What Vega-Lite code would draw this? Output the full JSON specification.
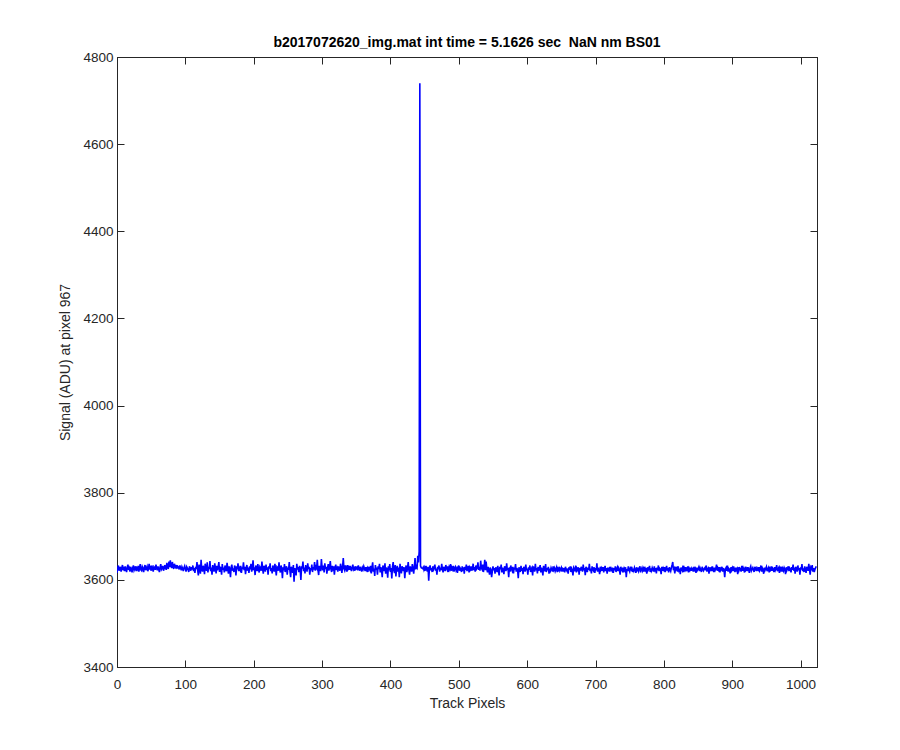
{
"$schema":"https://vega.github.io/schema/vega-lite/v6.json",
"width":700,"height":610,
"autosize":{"type":"none"},
"padding":{"left":117,"top":57,"right":83,"bottom":83},
"background":"white",
"title":{"text":"b2017072620_img.mat int time = 5.1626 sec \u00a0NaN nm BS01","font":"Liberation Sans","fontSize":14,"fontWeight":"bold","color":"#000000","anchor":"middle","offset":0},
"config":{"view":{"stroke":"#262626","strokeWidth":1},
"axis":{"grid":false,"labelFont":"Liberation Sans","labelFontSize":13.5,"labelColor":"#262626","titleFont":"Liberation Sans","titleFontSize":14,"titleFontWeight":"normal","titleColor":"#262626","tickColor":"#262626","domainColor":"#262626","tickSize":-7,"domainWidth":1,"tickWidth":1}},
"data":{"values":[
{"x":0,"y":3616},{"x":1,"y":3628},{"x":2,"y":3633},{"x":3,"y":3621},{"x":4,"y":3625},{"x":5,"y":3630},{"x":6,"y":3619},{"x":7,"y":3627},{"x":8,"y":3634},{"x":9,"y":3622},
{"x":10,"y":3626},{"x":11,"y":3620},{"x":12,"y":3631},{"x":13,"y":3624},{"x":14,"y":3618},{"x":15,"y":3629},{"x":16,"y":3635},{"x":17,"y":3623},{"x":18,"y":3627},{"x":19,"y":3619},
{"x":20,"y":3630},{"x":21,"y":3625},{"x":22,"y":3617},{"x":23,"y":3628},{"x":24,"y":3633},{"x":25,"y":3622},{"x":26,"y":3626},{"x":27,"y":3631},{"x":28,"y":3620},{"x":29,"y":3627},
{"x":30,"y":3624},{"x":31,"y":3632},{"x":32,"y":3619},{"x":33,"y":3628},{"x":34,"y":3636},{"x":35,"y":3623},{"x":36,"y":3621},{"x":37,"y":3630},{"x":38,"y":3626},{"x":39,"y":3618},
{"x":40,"y":3629},{"x":41,"y":3634},{"x":42,"y":3622},{"x":43,"y":3627},{"x":44,"y":3631},{"x":45,"y":3620},{"x":46,"y":3625},{"x":47,"y":3637},{"x":48,"y":3624},{"x":49,"y":3628},
{"x":50,"y":3621},{"x":51,"y":3633},{"x":52,"y":3626},{"x":53,"y":3619},{"x":54,"y":3630},{"x":55,"y":3628},{"x":56,"y":3623},{"x":57,"y":3635},{"x":58,"y":3627},{"x":59,"y":3622},
{"x":60,"y":3631},{"x":61,"y":3625},{"x":62,"y":3618},{"x":63,"y":3629},{"x":64,"y":3636},{"x":65,"y":3624},{"x":66,"y":3627},{"x":67,"y":3632},{"x":68,"y":3621},{"x":69,"y":3626},
{"x":70,"y":3634},{"x":71,"y":3628},{"x":72,"y":3623},{"x":73,"y":3639},{"x":74,"y":3630},{"x":75,"y":3625},{"x":76,"y":3642},{"x":77,"y":3629},{"x":78,"y":3645},{"x":79,"y":3633},
{"x":80,"y":3627},{"x":81,"y":3641},{"x":82,"y":3631},{"x":83,"y":3625},{"x":84,"y":3637},{"x":85,"y":3630},{"x":86,"y":3628},{"x":87,"y":3634},{"x":88,"y":3626},{"x":89,"y":3631},
{"x":90,"y":3629},{"x":91,"y":3624},{"x":92,"y":3633},{"x":93,"y":3627},{"x":94,"y":3622},{"x":95,"y":3630},{"x":96,"y":3626},{"x":97,"y":3620},{"x":98,"y":3628},{"x":99,"y":3632},
{"x":100,"y":3625},{"x":101,"y":3619},{"x":102,"y":3630},{"x":103,"y":3627},{"x":104,"y":3623},{"x":105,"y":3618},{"x":106,"y":3631},{"x":107,"y":3626},{"x":108,"y":3621},{"x":109,"y":3629},
{"x":110,"y":3624},{"x":111,"y":3633},{"x":112,"y":3620},{"x":113,"y":3627},{"x":114,"y":3616},{"x":115,"y":3630},{"x":116,"y":3625},{"x":117,"y":3641},{"x":118,"y":3622},{"x":119,"y":3610},
{"x":120,"y":3635},{"x":121,"y":3627},{"x":122,"y":3614},{"x":123,"y":3646},{"x":124,"y":3624},{"x":125,"y":3619},{"x":126,"y":3632},{"x":127,"y":3628},{"x":128,"y":3613},{"x":129,"y":3637},
{"x":130,"y":3626},{"x":131,"y":3621},{"x":132,"y":3640},{"x":133,"y":3617},{"x":134,"y":3630},{"x":135,"y":3625},{"x":136,"y":3643},{"x":137,"y":3620},{"x":138,"y":3628},{"x":139,"y":3612},
{"x":140,"y":3634},{"x":141,"y":3624},{"x":142,"y":3619},{"x":143,"y":3638},{"x":144,"y":3627},{"x":145,"y":3615},{"x":146,"y":3632},{"x":147,"y":3622},{"x":148,"y":3629},{"x":149,"y":3641},
{"x":150,"y":3618},{"x":151,"y":3630},{"x":152,"y":3626},{"x":153,"y":3612},{"x":154,"y":3636},{"x":155,"y":3623},{"x":156,"y":3628},{"x":157,"y":3617},{"x":158,"y":3633},{"x":159,"y":3625},
{"x":160,"y":3620},{"x":161,"y":3639},{"x":162,"y":3627},{"x":163,"y":3614},{"x":164,"y":3631},{"x":165,"y":3624},{"x":166,"y":3606},{"x":167,"y":3629},{"x":168,"y":3635},{"x":169,"y":3621},
{"x":170,"y":3626},{"x":171,"y":3618},{"x":172,"y":3633},{"x":173,"y":3628},{"x":174,"y":3610},{"x":175,"y":3631},{"x":176,"y":3624},{"x":177,"y":3638},{"x":178,"y":3620},{"x":179,"y":3627},
{"x":180,"y":3623},{"x":181,"y":3632},{"x":182,"y":3616},{"x":183,"y":3629},{"x":184,"y":3625},{"x":185,"y":3640},{"x":186,"y":3622},{"x":187,"y":3630},{"x":188,"y":3613},{"x":189,"y":3627},
{"x":190,"y":3634},{"x":191,"y":3621},{"x":192,"y":3628},{"x":193,"y":3616},{"x":194,"y":3631},{"x":195,"y":3624},{"x":196,"y":3637},{"x":197,"y":3619},{"x":198,"y":3626},{"x":199,"y":3645},
{"x":200,"y":3622},{"x":201,"y":3629},{"x":202,"y":3611},{"x":203,"y":3633},{"x":204,"y":3626},{"x":205,"y":3620},{"x":206,"y":3636},{"x":207,"y":3624},{"x":208,"y":3617},{"x":209,"y":3630},
{"x":210,"y":3627},{"x":211,"y":3621},{"x":212,"y":3642},{"x":213,"y":3625},{"x":214,"y":3614},{"x":215,"y":3632},{"x":216,"y":3628},{"x":217,"y":3619},{"x":218,"y":3635},{"x":219,"y":3623},
{"x":220,"y":3629},{"x":221,"y":3612},{"x":222,"y":3631},{"x":223,"y":3626},{"x":224,"y":3638},{"x":225,"y":3620},{"x":226,"y":3627},{"x":227,"y":3615},{"x":228,"y":3633},{"x":229,"y":3624},
{"x":230,"y":3619},{"x":231,"y":3637},{"x":232,"y":3625},{"x":233,"y":3610},{"x":234,"y":3630},{"x":235,"y":3628},{"x":236,"y":3621},{"x":237,"y":3640},{"x":238,"y":3624},{"x":239,"y":3617},
{"x":240,"y":3633},{"x":241,"y":3626},{"x":242,"y":3604},{"x":243,"y":3629},{"x":244,"y":3622},{"x":245,"y":3636},{"x":246,"y":3618},{"x":247,"y":3627},{"x":248,"y":3631},{"x":249,"y":3612},
{"x":250,"y":3628},{"x":251,"y":3623},{"x":252,"y":3641},{"x":253,"y":3620},{"x":254,"y":3606},{"x":255,"y":3630},{"x":256,"y":3625},{"x":257,"y":3616},{"x":258,"y":3634},{"x":259,"y":3596},
{"x":260,"y":3627},{"x":261,"y":3621},{"x":262,"y":3610},{"x":263,"y":3637},{"x":264,"y":3624},{"x":265,"y":3629},{"x":266,"y":3618},{"x":267,"y":3632},{"x":268,"y":3623},{"x":269,"y":3600},
{"x":270,"y":3631},{"x":271,"y":3626},{"x":272,"y":3642},{"x":273,"y":3620},{"x":274,"y":3628},{"x":275,"y":3615},{"x":276,"y":3634},{"x":277,"y":3624},{"x":278,"y":3619},{"x":279,"y":3638},
{"x":280,"y":3625},{"x":281,"y":3630},{"x":282,"y":3612},{"x":283,"y":3627},{"x":284,"y":3622},{"x":285,"y":3635},{"x":286,"y":3618},{"x":287,"y":3629},{"x":288,"y":3624},{"x":289,"y":3641},
{"x":290,"y":3621},{"x":291,"y":3630},{"x":292,"y":3627},{"x":293,"y":3646},{"x":294,"y":3623},{"x":295,"y":3611},{"x":296,"y":3632},{"x":297,"y":3626},{"x":298,"y":3620},{"x":299,"y":3648},
{"x":300,"y":3628},{"x":301,"y":3622},{"x":302,"y":3633},{"x":303,"y":3617},{"x":304,"y":3638},{"x":305,"y":3625},{"x":306,"y":3630},{"x":307,"y":3614},{"x":308,"y":3627},{"x":309,"y":3636},
{"x":310,"y":3621},{"x":311,"y":3629},{"x":312,"y":3643},{"x":313,"y":3624},{"x":314,"y":3618},{"x":315,"y":3632},{"x":316,"y":3626},{"x":317,"y":3631},{"x":318,"y":3612},{"x":319,"y":3628},
{"x":320,"y":3635},{"x":321,"y":3623},{"x":322,"y":3627},{"x":323,"y":3619},{"x":324,"y":3631},{"x":325,"y":3625},{"x":326,"y":3621},{"x":327,"y":3637},{"x":328,"y":3628},{"x":329,"y":3616},
{"x":330,"y":3630},{"x":331,"y":3650},{"x":332,"y":3626},{"x":333,"y":3622},{"x":334,"y":3633},{"x":335,"y":3628},{"x":336,"y":3619},{"x":337,"y":3634},{"x":338,"y":3625},{"x":339,"y":3629},
{"x":340,"y":3623},{"x":341,"y":3632},{"x":342,"y":3626},{"x":343,"y":3620},{"x":344,"y":3629},{"x":345,"y":3635},{"x":346,"y":3624},{"x":347,"y":3627},{"x":348,"y":3621},{"x":349,"y":3631},
{"x":350,"y":3626},{"x":351,"y":3628},{"x":352,"y":3622},{"x":353,"y":3633},{"x":354,"y":3627},{"x":355,"y":3621},{"x":356,"y":3630},{"x":357,"y":3625},{"x":358,"y":3619},{"x":359,"y":3628},
{"x":360,"y":3624},{"x":361,"y":3631},{"x":362,"y":3626},{"x":363,"y":3620},{"x":364,"y":3629},{"x":365,"y":3623},{"x":366,"y":3627},{"x":367,"y":3618},{"x":368,"y":3630},{"x":369,"y":3625},
{"x":370,"y":3622},{"x":371,"y":3632},{"x":372,"y":3615},{"x":373,"y":3628},{"x":374,"y":3640},{"x":375,"y":3619},{"x":376,"y":3626},{"x":377,"y":3609},{"x":378,"y":3634},{"x":379,"y":3623},
{"x":380,"y":3628},{"x":381,"y":3612},{"x":382,"y":3631},{"x":383,"y":3625},{"x":384,"y":3637},{"x":385,"y":3617},{"x":386,"y":3629},{"x":387,"y":3622},{"x":388,"y":3606},{"x":389,"y":3633},
{"x":390,"y":3626},{"x":391,"y":3620},{"x":392,"y":3638},{"x":393,"y":3614},{"x":394,"y":3628},{"x":395,"y":3624},{"x":396,"y":3605},{"x":397,"y":3631},{"x":398,"y":3622},{"x":399,"y":3636},
{"x":400,"y":3618},{"x":401,"y":3627},{"x":402,"y":3603},{"x":403,"y":3630},{"x":404,"y":3641},{"x":405,"y":3621},{"x":406,"y":3616},{"x":407,"y":3634},{"x":408,"y":3608},{"x":409,"y":3626},
{"x":410,"y":3632},{"x":411,"y":3619},{"x":412,"y":3628},{"x":413,"y":3606},{"x":414,"y":3637},{"x":415,"y":3624},{"x":416,"y":3615},{"x":417,"y":3631},{"x":418,"y":3627},{"x":419,"y":3620},
{"x":420,"y":3629},{"x":421,"y":3604},{"x":422,"y":3625},{"x":423,"y":3633},{"x":424,"y":3618},{"x":425,"y":3627},{"x":426,"y":3641},{"x":427,"y":3622},{"x":428,"y":3612},{"x":429,"y":3631},
{"x":430,"y":3624},{"x":431,"y":3619},{"x":432,"y":3636},{"x":433,"y":3627},{"x":434,"y":3614},{"x":435,"y":3630},{"x":436,"y":3650},{"x":437,"y":3624},{"x":438,"y":3631},{"x":439,"y":3628},
{"x":440,"y":3655},{"x":441,"y":3640},{"x":442,"y":3665},{"x":443,"y":4740},{"x":444,"y":3632},{"x":445,"y":3628},{"x":446,"y":3627},{"x":447,"y":3626},{"x":448,"y":3629},{"x":449,"y":3623},
{"x":450,"y":3628},{"x":451,"y":3621},{"x":452,"y":3632},{"x":453,"y":3625},{"x":454,"y":3619},{"x":455,"y":3630},{"x":456,"y":3598},{"x":457,"y":3626},{"x":458,"y":3633},{"x":459,"y":3622},
{"x":460,"y":3627},{"x":461,"y":3618},{"x":462,"y":3631},{"x":463,"y":3624},{"x":464,"y":3629},{"x":465,"y":3635},{"x":466,"y":3621},{"x":467,"y":3626},{"x":468,"y":3612},{"x":469,"y":3630},
{"x":470,"y":3624},{"x":471,"y":3633},{"x":472,"y":3619},{"x":473,"y":3628},{"x":474,"y":3622},{"x":475,"y":3637},{"x":476,"y":3625},{"x":477,"y":3617},{"x":478,"y":3630},{"x":479,"y":3626},
{"x":480,"y":3620},{"x":481,"y":3634},{"x":482,"y":3627},{"x":483,"y":3623},{"x":484,"y":3631},{"x":485,"y":3618},{"x":486,"y":3629},{"x":487,"y":3625},{"x":488,"y":3636},{"x":489,"y":3621},
{"x":490,"y":3628},{"x":491,"y":3624},{"x":492,"y":3632},{"x":493,"y":3619},{"x":494,"y":3627},{"x":495,"y":3630},{"x":496,"y":3622},{"x":497,"y":3626},{"x":498,"y":3616},{"x":499,"y":3629},
{"x":500,"y":3633},{"x":501,"y":3621},{"x":502,"y":3627},{"x":503,"y":3624},{"x":504,"y":3618},{"x":505,"y":3631},{"x":506,"y":3625},{"x":507,"y":3629},{"x":508,"y":3614},{"x":509,"y":3630},
{"x":510,"y":3623},{"x":511,"y":3635},{"x":512,"y":3620},{"x":513,"y":3627},{"x":514,"y":3632},{"x":515,"y":3617},{"x":516,"y":3628},{"x":517,"y":3624},{"x":518,"y":3631},{"x":519,"y":3621},
{"x":520,"y":3626},{"x":521,"y":3637},{"x":522,"y":3622},{"x":523,"y":3629},{"x":524,"y":3619},{"x":525,"y":3633},{"x":526,"y":3625},{"x":527,"y":3628},{"x":528,"y":3640},{"x":529,"y":3623},
{"x":530,"y":3630},{"x":531,"y":3621},{"x":532,"y":3644},{"x":533,"y":3627},{"x":534,"y":3624},{"x":535,"y":3635},{"x":536,"y":3618},{"x":537,"y":3629},{"x":538,"y":3646},{"x":539,"y":3622},
{"x":540,"y":3642},{"x":541,"y":3625},{"x":542,"y":3617},{"x":543,"y":3630},{"x":544,"y":3622},{"x":545,"y":3612},{"x":546,"y":3628},{"x":547,"y":3624},{"x":548,"y":3606},{"x":549,"y":3619},
{"x":550,"y":3631},{"x":551,"y":3622},{"x":552,"y":3627},{"x":553,"y":3614},{"x":554,"y":3629},{"x":555,"y":3625},{"x":556,"y":3618},{"x":557,"y":3632},{"x":558,"y":3621},{"x":559,"y":3610},
{"x":560,"y":3630},{"x":561,"y":3624},{"x":562,"y":3635},{"x":563,"y":3617},{"x":564,"y":3628},{"x":565,"y":3622},{"x":566,"y":3613},{"x":567,"y":3631},{"x":568,"y":3626},{"x":569,"y":3620},
{"x":570,"y":3638},{"x":571,"y":3623},{"x":572,"y":3627},{"x":573,"y":3606},{"x":574,"y":3629},{"x":575,"y":3619},{"x":576,"y":3633},{"x":577,"y":3625},{"x":578,"y":3621},{"x":579,"y":3630},
{"x":580,"y":3615},{"x":581,"y":3628},{"x":582,"y":3624},{"x":583,"y":3636},{"x":584,"y":3619},{"x":585,"y":3627},{"x":586,"y":3622},{"x":587,"y":3604},{"x":588,"y":3629},{"x":589,"y":3625},
{"x":590,"y":3618},{"x":591,"y":3632},{"x":592,"y":3621},{"x":593,"y":3627},{"x":594,"y":3613},{"x":595,"y":3630},{"x":596,"y":3624},{"x":597,"y":3619},{"x":598,"y":3635},{"x":599,"y":3622},
{"x":600,"y":3626},{"x":601,"y":3612},{"x":602,"y":3629},{"x":603,"y":3623},{"x":604,"y":3633},{"x":605,"y":3618},{"x":606,"y":3625},{"x":607,"y":3628},{"x":608,"y":3610},{"x":609,"y":3631},
{"x":610,"y":3624},{"x":611,"y":3619},{"x":612,"y":3637},{"x":613,"y":3622},{"x":614,"y":3627},{"x":615,"y":3615},{"x":616,"y":3630},{"x":617,"y":3621},{"x":618,"y":3626},{"x":619,"y":3634},
{"x":620,"y":3617},{"x":621,"y":3628},{"x":622,"y":3623},{"x":623,"y":3610},{"x":624,"y":3632},{"x":625,"y":3625},{"x":626,"y":3620},{"x":627,"y":3636},{"x":628,"y":3618},{"x":629,"y":3627},
{"x":630,"y":3622},{"x":631,"y":3630},{"x":632,"y":3614},{"x":633,"y":3626},{"x":634,"y":3621},{"x":635,"y":3628},{"x":636,"y":3624},{"x":637,"y":3619},{"x":638,"y":3631},{"x":639,"y":3623},
{"x":640,"y":3627},{"x":641,"y":3620},{"x":642,"y":3625},{"x":643,"y":3629},{"x":644,"y":3618},{"x":645,"y":3626},{"x":646,"y":3623},{"x":647,"y":3630},{"x":648,"y":3621},{"x":649,"y":3624},
{"x":650,"y":3628},{"x":651,"y":3619},{"x":652,"y":3625},{"x":653,"y":3622},{"x":654,"y":3627},{"x":655,"y":3617},{"x":656,"y":3630},{"x":657,"y":3624},{"x":658,"y":3621},{"x":659,"y":3626},
{"x":660,"y":3614},{"x":661,"y":3629},{"x":662,"y":3623},{"x":663,"y":3631},{"x":664,"y":3618},{"x":665,"y":3626},{"x":666,"y":3622},{"x":667,"y":3610},{"x":668,"y":3628},{"x":669,"y":3625},
{"x":670,"y":3620},{"x":671,"y":3633},{"x":672,"y":3617},{"x":673,"y":3626},{"x":674,"y":3623},{"x":675,"y":3629},{"x":676,"y":3612},{"x":677,"y":3627},{"x":678,"y":3621},{"x":679,"y":3630},
{"x":680,"y":3624},{"x":681,"y":3619},{"x":682,"y":3635},{"x":683,"y":3622},{"x":684,"y":3627},{"x":685,"y":3611},{"x":686,"y":3630},{"x":687,"y":3625},{"x":688,"y":3618},{"x":689,"y":3628},
{"x":690,"y":3623},{"x":691,"y":3637},{"x":692,"y":3620},{"x":693,"y":3626},{"x":694,"y":3615},{"x":695,"y":3631},{"x":696,"y":3624},{"x":697,"y":3621},{"x":698,"y":3629},{"x":699,"y":3616},
{"x":700,"y":3627},{"x":701,"y":3622},{"x":702,"y":3638},{"x":703,"y":3619},{"x":704,"y":3626},{"x":705,"y":3624},{"x":706,"y":3613},{"x":707,"y":3630},{"x":708,"y":3623},{"x":709,"y":3627},
{"x":710,"y":3621},{"x":711,"y":3629},{"x":712,"y":3617},{"x":713,"y":3625},{"x":714,"y":3632},{"x":715,"y":3620},{"x":716,"y":3627},{"x":717,"y":3614},{"x":718,"y":3628},{"x":719,"y":3623},
{"x":720,"y":3626},{"x":721,"y":3619},{"x":722,"y":3630},{"x":723,"y":3624},{"x":724,"y":3621},{"x":725,"y":3628},{"x":726,"y":3616},{"x":727,"y":3627},{"x":728,"y":3622},{"x":729,"y":3631},
{"x":730,"y":3618},{"x":731,"y":3625},{"x":732,"y":3629},{"x":733,"y":3620},{"x":734,"y":3627},{"x":735,"y":3623},{"x":736,"y":3612},{"x":737,"y":3630},{"x":738,"y":3624},{"x":739,"y":3621},
{"x":740,"y":3628},{"x":741,"y":3617},{"x":742,"y":3626},{"x":743,"y":3622},{"x":744,"y":3629},{"x":745,"y":3606},{"x":746,"y":3625},{"x":747,"y":3620},{"x":748,"y":3631},{"x":749,"y":3623},
{"x":750,"y":3619},{"x":751,"y":3627},{"x":752,"y":3624},{"x":753,"y":3630},{"x":754,"y":3618},{"x":755,"y":3626},{"x":756,"y":3621},{"x":757,"y":3628},{"x":758,"y":3623},{"x":759,"y":3616},
{"x":760,"y":3629},{"x":761,"y":3622},{"x":762,"y":3625},{"x":763,"y":3620},{"x":764,"y":3627},{"x":765,"y":3631},{"x":766,"y":3617},{"x":767,"y":3624},{"x":768,"y":3628},{"x":769,"y":3621},
{"x":770,"y":3626},{"x":771,"y":3619},{"x":772,"y":3630},{"x":773,"y":3623},{"x":774,"y":3627},{"x":775,"y":3614},{"x":776,"y":3629},{"x":777,"y":3622},{"x":778,"y":3625},{"x":779,"y":3632},
{"x":780,"y":3618},{"x":781,"y":3626},{"x":782,"y":3621},{"x":783,"y":3628},{"x":784,"y":3624},{"x":785,"y":3619},{"x":786,"y":3631},{"x":787,"y":3623},{"x":788,"y":3627},{"x":789,"y":3615},
{"x":790,"y":3628},{"x":791,"y":3622},{"x":792,"y":3633},{"x":793,"y":3620},{"x":794,"y":3626},{"x":795,"y":3624},{"x":796,"y":3613},{"x":797,"y":3630},{"x":798,"y":3621},{"x":799,"y":3627},
{"x":800,"y":3623},{"x":801,"y":3629},{"x":802,"y":3618},{"x":803,"y":3625},{"x":804,"y":3632},{"x":805,"y":3621},{"x":806,"y":3627},{"x":807,"y":3617},{"x":808,"y":3629},{"x":809,"y":3624},
{"x":810,"y":3620},{"x":811,"y":3628},{"x":812,"y":3634},{"x":813,"y":3641},{"x":814,"y":3622},{"x":815,"y":3626},{"x":816,"y":3615},{"x":817,"y":3630},{"x":818,"y":3624},{"x":819,"y":3627},
{"x":820,"y":3619},{"x":821,"y":3631},{"x":822,"y":3622},{"x":823,"y":3626},{"x":824,"y":3613},{"x":825,"y":3628},{"x":826,"y":3624},{"x":827,"y":3621},{"x":828,"y":3633},{"x":829,"y":3618},
{"x":830,"y":3627},{"x":831,"y":3623},{"x":832,"y":3629},{"x":833,"y":3620},{"x":834,"y":3625},{"x":835,"y":3631},{"x":836,"y":3617},{"x":837,"y":3626},{"x":838,"y":3622},{"x":839,"y":3628},
{"x":840,"y":3621},{"x":841,"y":3627},{"x":842,"y":3624},{"x":843,"y":3619},{"x":844,"y":3630},{"x":845,"y":3623},{"x":846,"y":3626},{"x":847,"y":3616},{"x":848,"y":3628},{"x":849,"y":3622},
{"x":850,"y":3625},{"x":851,"y":3629},{"x":852,"y":3620},{"x":853,"y":3627},{"x":854,"y":3623},{"x":855,"y":3618},{"x":856,"y":3630},{"x":857,"y":3624},{"x":858,"y":3621},{"x":859,"y":3626},
{"x":860,"y":3628},{"x":861,"y":3622},{"x":862,"y":3633},{"x":863,"y":3619},{"x":864,"y":3625},{"x":865,"y":3627},{"x":866,"y":3614},{"x":867,"y":3629},{"x":868,"y":3623},{"x":869,"y":3626},
{"x":870,"y":3620},{"x":871,"y":3631},{"x":872,"y":3624},{"x":873,"y":3618},{"x":874,"y":3628},{"x":875,"y":3622},{"x":876,"y":3626},{"x":877,"y":3635},{"x":878,"y":3621},{"x":879,"y":3627},
{"x":880,"y":3623},{"x":881,"y":3629},{"x":882,"y":3617},{"x":883,"y":3626},{"x":884,"y":3624},{"x":885,"y":3630},{"x":886,"y":3619},{"x":887,"y":3627},{"x":888,"y":3622},{"x":889,"y":3606},
{"x":890,"y":3625},{"x":891,"y":3628},{"x":892,"y":3621},{"x":893,"y":3633},{"x":894,"y":3619},{"x":895,"y":3626},{"x":896,"y":3624},{"x":897,"y":3615},{"x":898,"y":3629},{"x":899,"y":3622},
{"x":900,"y":3627},{"x":901,"y":3620},{"x":902,"y":3631},{"x":903,"y":3624},{"x":904,"y":3618},{"x":905,"y":3628},{"x":906,"y":3623},{"x":907,"y":3626},{"x":908,"y":3613},{"x":909,"y":3629},
{"x":910,"y":3622},{"x":911,"y":3627},{"x":912,"y":3625},{"x":913,"y":3619},{"x":914,"y":3632},{"x":915,"y":3621},{"x":916,"y":3628},{"x":917,"y":3624},{"x":918,"y":3617},{"x":919,"y":3630},
{"x":920,"y":3623},{"x":921,"y":3626},{"x":922,"y":3620},{"x":923,"y":3629},{"x":924,"y":3624},{"x":925,"y":3616},{"x":926,"y":3627},{"x":927,"y":3631},{"x":928,"y":3621},{"x":929,"y":3625},
{"x":930,"y":3628},{"x":931,"y":3622},{"x":932,"y":3618},{"x":933,"y":3630},{"x":934,"y":3624},{"x":935,"y":3627},{"x":936,"y":3620},{"x":937,"y":3626},{"x":938,"y":3623},{"x":939,"y":3629},
{"x":940,"y":3621},{"x":941,"y":3625},{"x":942,"y":3633},{"x":943,"y":3619},{"x":944,"y":3627},{"x":945,"y":3623},{"x":946,"y":3614},{"x":947,"y":3628},{"x":948,"y":3622},{"x":949,"y":3626},
{"x":950,"y":3630},{"x":951,"y":3620},{"x":952,"y":3625},{"x":953,"y":3628},{"x":954,"y":3617},{"x":955,"y":3626},{"x":956,"y":3623},{"x":957,"y":3631},{"x":958,"y":3621},{"x":959,"y":3627},
{"x":960,"y":3624},{"x":961,"y":3618},{"x":962,"y":3629},{"x":963,"y":3622},{"x":964,"y":3626},{"x":965,"y":3634},{"x":966,"y":3620},{"x":967,"y":3625},{"x":968,"y":3628},{"x":969,"y":3616},
{"x":970,"y":3627},{"x":971,"y":3623},{"x":972,"y":3630},{"x":973,"y":3619},{"x":974,"y":3626},{"x":975,"y":3621},{"x":976,"y":3628},{"x":977,"y":3624},{"x":978,"y":3613},{"x":979,"y":3629},
{"x":980,"y":3622},{"x":981,"y":3626},{"x":982,"y":3631},{"x":983,"y":3620},{"x":984,"y":3627},{"x":985,"y":3624},{"x":986,"y":3617},{"x":987,"y":3629},{"x":988,"y":3623},{"x":989,"y":3635},
{"x":990,"y":3621},{"x":991,"y":3628},{"x":992,"y":3614},{"x":993,"y":3630},{"x":994,"y":3625},{"x":995,"y":3619},{"x":996,"y":3633},{"x":997,"y":3622},{"x":998,"y":3627},{"x":999,"y":3612},
{"x":1000,"y":3629},{"x":1001,"y":3624},{"x":1002,"y":3636},{"x":1003,"y":3620},{"x":1004,"y":3626},{"x":1005,"y":3618},{"x":1006,"y":3631},{"x":1007,"y":3623},{"x":1008,"y":3616},{"x":1009,"y":3630},
{"x":1010,"y":3625},{"x":1011,"y":3621},{"x":1012,"y":3637},{"x":1013,"y":3624},{"x":1014,"y":3612},{"x":1015,"y":3629},{"x":1016,"y":3626},{"x":1017,"y":3634},{"x":1018,"y":3619},{"x":1019,"y":3627},
{"x":1020,"y":3618},{"x":1021,"y":3624},{"x":1022,"y":3628},{"x":1023,"y":3631}
]},
"layer":[
{"mark":{"type":"line","color":"#0000ff","strokeWidth":1.6,"clip":true},
 "encoding":{
  "x":{"field":"x","type":"quantitative","scale":{"domain":[0,1024],"nice":false,"zero":false},
       "axis":{"orient":"bottom","values":[0,100,200,300,400,500,600,700,800,900,1000],"title":"Track Pixels","labelPadding":17,"titlePadding":6,"labelFlush":false,"format":"d"}},
  "y":{"field":"y","type":"quantitative","scale":{"domain":[3400,4800],"nice":false,"zero":false},
       "axis":{"orient":"left","values":[3400,3600,3800,4000,4200,4400,4600,4800],"title":"Signal (ADU) at pixel 967","labelPadding":11,"titlePadding":10,"format":"d","labelFlush":false}}}},
{"mark":{"type":"line","opacity":0},
 "encoding":{
  "x":{"field":"x","type":"quantitative","axis":{"orient":"top","values":[0,100,200,300,400,500,600,700,800,900,1000],"labels":false,"title":null}},
  "y":{"field":"y","type":"quantitative","axis":{"orient":"right","values":[3400,3600,3800,4000,4200,4400,4600,4800],"labels":false,"title":null}}}}
],
"resolve":{"axis":{"x":"independent","y":"independent"}}
}
